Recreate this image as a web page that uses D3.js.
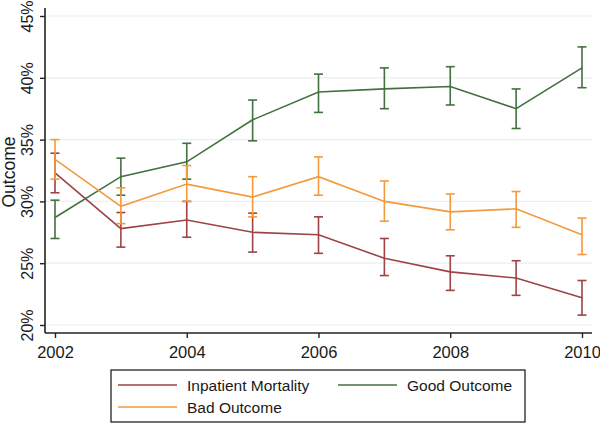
<!DOCTYPE html>
<html>
<head>
<meta charset="utf-8">
<script src="https://cdn.jsdelivr.net/npm/d3@7"></script>
<style>
  body { margin: 0; background: #fff; }
  text { font-family: "Liberation Sans", Arial, sans-serif; fill: #1a1a1a; }
</style>
</head>
<body>
<script>
var years = [2002, 2003, 2004, 2005, 2006, 2007, 2008, 2009, 2010];

// estimates and 95% CI (percent)
var mortality    = [32.3, 27.8, 28.5, 27.5, 27.3, 25.4, 24.3, 23.8, 22.2];
var mortalityLo  = [30.7, 26.3, 27.1, 25.9, 25.8, 24.0, 22.8, 22.4, 20.8];
var mortalityHi  = [33.9, 29.1, 30.0, 29.05, 28.75, 27.0, 25.6, 25.2, 23.6];

var good   = [28.7, 32.0, 33.2, 36.6, 38.85, 39.1, 39.3, 37.5, 40.8];
var goodLo = [27.0, 30.5, 31.8, 34.9, 37.2, 37.5, 37.8, 35.9, 39.2];
var goodHi = [30.1, 33.5, 34.7, 38.2, 40.3, 40.8, 40.9, 39.1, 42.5];

var bad   = [33.4, 29.6, 31.4, 30.35, 32.0, 30.0, 29.15, 29.4, 27.3];
var badLo = [31.8, 28.2, 30.0, 28.75, 30.5, 28.4, 27.7, 27.9, 25.7];
var badHi = [35.0, 31.1, 32.9, 32.0, 33.6, 31.65, 30.6, 30.8, 28.65];

var yTicks = [20, 25, 30, 35, 40, 45];
var xTicks = [2002, 2004, 2006, 2008, 2010];

var series = [
  {name: "Inpatient Mortality", color: "#9e4244", v: mortality, lo: mortalityLo, hi: mortalityHi},
  {name: "Good Outcome", color: "#43703f", v: good, lo: goodLo, hi: goodHi},
  {name: "Bad Outcome", color: "#f39a3c", v: bad, lo: badLo, hi: badHi}
];

var width = 600, height = 423;
var svg = d3.select("body").append("svg")
    .attr("width", width)
    .attr("height", height);

var x = d3.scaleLinear().domain([2002, 2010]).range([55, 582]);
var y = d3.scaleLinear().domain([20, 45]).range([325, 16]);

// gridlines
svg.append("g").selectAll("line")
    .data(yTicks)
    .enter().append("line")
    .attr("x1", 45).attr("x2", 592)
    .attr("y1", function(d) { return y(d); })
    .attr("y2", function(d) { return y(d); })
    .attr("stroke", "#e9f0f1")
    .attr("stroke-width", 1.2);

// y axis
var yAxis = svg.append("g")
    .attr("transform", "translate(45,0)")
    .call(d3.axisLeft(y).tickValues(yTicks).tickSize(5).tickPadding(4)
        .tickFormat(function(d) { return d + "%"; }));
yAxis.select(".domain").attr("d", "M0,8V333").attr("stroke", "#222").attr("stroke-width", 1.6);
yAxis.selectAll(".tick line").attr("stroke", "#222").attr("stroke-width", 1.4);
yAxis.selectAll(".tick text")
    .attr("font-size", 16)
    .attr("transform", "rotate(-90)")
    .attr("x", 0).attr("y", -12)
    .attr("dy", 0)
    .style("text-anchor", "middle");

// x axis
var xAxis = svg.append("g")
    .attr("transform", "translate(0,333)")
    .call(d3.axisBottom(x).tickValues(xTicks).tickSize(5).tickPadding(5)
        .tickFormat(d3.format("d")));
xAxis.select(".domain").attr("d", "M45,0H592").attr("stroke", "#222").attr("stroke-width", 1.6);
xAxis.selectAll(".tick line").attr("stroke", "#222").attr("stroke-width", 1.4);
xAxis.selectAll(".tick text").attr("font-size", 16.5).attr("dy", "0.9em");

svg.append("text")
    .attr("transform", "translate(15,172) rotate(-90)")
    .style("text-anchor", "middle")
    .attr("font-size", 17.5)
    .text("Outcome");

var line = d3.line()
    .x(function(d, i) { return x(years[i]); })
    .y(function(d) { return y(d); });

series.forEach(function(s) {
  var g = svg.append("g");
  years.forEach(function(yr, i) {
    var cx = x(yr);
    g.append("line")
        .attr("x1", cx).attr("x2", cx)
        .attr("y1", y(s.lo[i])).attr("y2", y(s.hi[i]))
        .attr("stroke", s.color).attr("stroke-width", 1.6);
    [s.lo[i], s.hi[i]].forEach(function(v) {
      g.append("line")
          .attr("x1", cx - 4.5).attr("x2", cx + 4.5)
          .attr("y1", y(v)).attr("y2", y(v))
          .attr("stroke", s.color).attr("stroke-width", 1.6);
    });
  });
  g.append("path")
      .datum(s.v)
      .attr("d", line)
      .attr("fill", "none")
      .attr("stroke", s.color)
      .attr("stroke-width", 1.6);
});

// legend
var legend = svg.append("g");
legend.append("rect")
    .attr("x", 111).attr("y", 370)
    .attr("width", 414).attr("height", 52)
    .attr("fill", "#fff")
    .attr("stroke", "#222")
    .attr("stroke-width", 1.3);

var legendPos = [[118, 385], [338, 385], [118, 407]];
series.forEach(function(s, i) {
  var p = legendPos[i];
  legend.append("line")
      .attr("x1", p[0]).attr("x2", p[0] + 59)
      .attr("y1", p[1]).attr("y2", p[1])
      .attr("stroke", s.color).attr("stroke-width", 1.6);
  legend.append("text")
      .attr("x", p[0] + 69).attr("y", p[1] + 5.5)
      .attr("font-size", 15.5)
      .text(s.name);
});
</script>
</body>
</html>
